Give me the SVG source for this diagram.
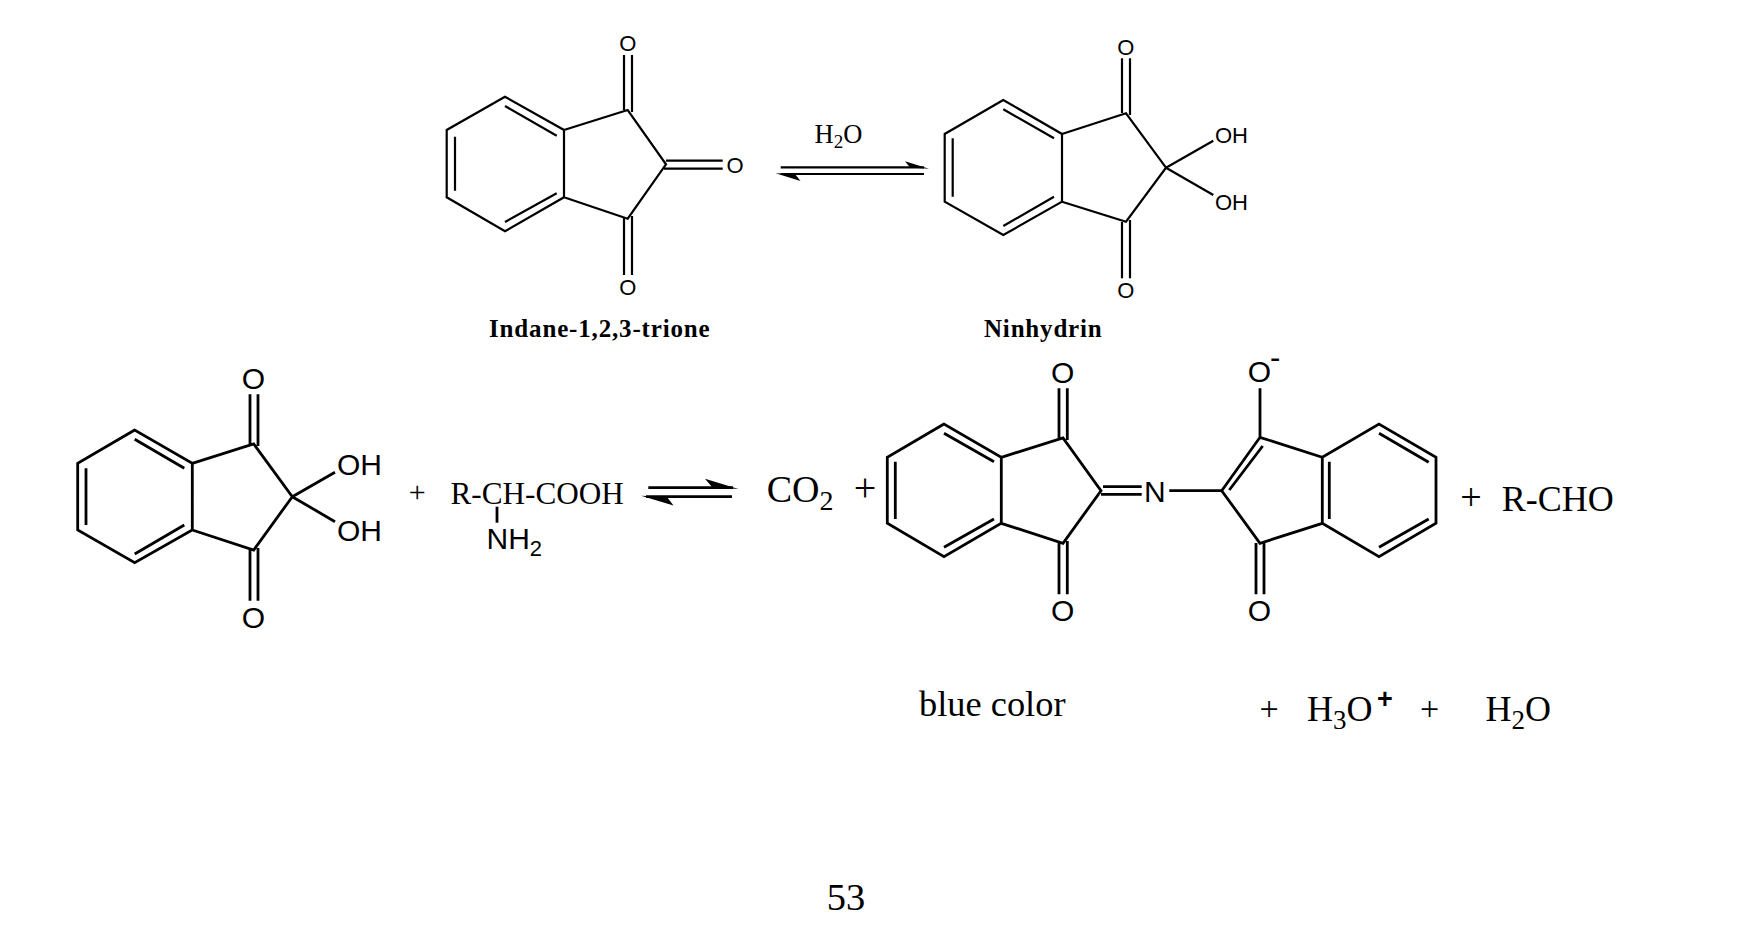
<svg xmlns="http://www.w3.org/2000/svg" width="1747" height="947" viewBox="0 0 1747 947">
<style>
text{fill:#000}
.s{font-family:"Liberation Sans",Arial,sans-serif}
.t{font-family:"Liberation Serif","Times New Roman",serif}
.m{text-anchor:middle}
.b{fill:none;stroke:#000;stroke-linejoin:miter;stroke-linecap:butt}
.thin{stroke-width:2.2}
.thick{stroke-width:2.8}
</style>
<rect width="1747" height="947" fill="#fff"/>
<g id="indanetrione">
<path class="b thin" d="M505 96.7L446.7 130V197.3L505 231.3L564 197.3V130ZM505 106L556.7 135.7M455 136.7V190.7M505 222L556.7 193.3M564 130L627.7 110L666 164.3L627.7 218.7L564 197.3M624 110V55M632 112V55M624 218V275M632 216V275M666 160.7H722.7M664 168.7H722.7"/>
<text class="s m" x="627.7" y="51" font-size="22">O</text>
<text class="s" x="726.5" y="173" font-size="22">O</text>
<text class="s m" x="627.7" y="294.5" font-size="22">O</text>
</g>
<g id="ninhydrin-top">
<path class="b thin" d="M1003.3 100L944.7 134V201.7L1003.3 235L1062 201.7V134ZM1003.3 109.3L1054 138.3M952.7 138.3V196.7M1003.3 226L1054 196.7M1062 134L1126 113.3L1166 167.7L1126 221.7L1062 201.7M1122 113V58.3M1130 115V58.3M1122 222V278.3M1130 220V278.3M1166 167.7L1213.3 140.7M1166 167.7L1213.3 195"/>
<text class="s m" x="1125.7" y="54.5" font-size="22">O</text>
<text class="s m" x="1125.7" y="298" font-size="22">O</text>
<text class="s" x="1215" y="142.7" font-size="22">OH</text>
<text class="s" x="1215" y="209.7" font-size="22">OH</text>
</g>
<g id="labels-top">
<text class="t" x="489" y="337.3" font-size="25" font-weight="700" textLength="220.7">Indane-1,2,3-trione</text>
<text class="t" x="984" y="337.3" font-size="25" font-weight="700" textLength="117.7">Ninhydrin</text>
<text class="t" x="814.5" y="143.3" font-size="26.5">H<tspan font-size="19" dy="5">2</tspan><tspan dy="-5">O</tspan></text>
</g>
<g id="ninhydrin-left">
<path class="b thick" d="M134.7 430L77.7 463.3V530L134.7 562.7L192.3 530V463.3ZM134.7 439.3L184.3 468.3M86 468.3V525M134.7 554L184.3 525M192.3 463.3L253.7 444L292.3 496.7L253.7 550L192.3 530M250 444V394.3M258 446V394.3M250 550V600.7M258 548V600.7M292.3 496.7L335 472.3M292.3 496.7L335 521.7"/>
<text class="s m" x="253.5" y="389" font-size="30">O</text>
<text class="s m" x="253.5" y="627.5" font-size="30">O</text>
<text class="s" x="337" y="475" font-size="30">OH</text>
<text class="s" x="337" y="541" font-size="30">OH</text>
</g>
<g id="amino-acid">
<text class="t m" x="417.3" y="502" font-size="30">+</text>
<text class="t" x="450.5" y="504" font-size="31.2">R-CH-COOH</text>
<path class="b thick" d="M497 506.7V522.7"/>
<text class="s" x="486.5" y="549.3" font-size="30">NH<tspan font-size="22" dy="6.4">2</tspan></text>
</g>
<g id="products-left">
<text class="t" x="766.7" y="501.7" font-size="38">CO<tspan font-size="28" dy="8.3">2</tspan></text>
<text class="t m" x="865" y="500.5" font-size="40">+</text>
</g>
<g id="indigo-dye">
<path class="b thick" d="M944 424L887.3 457.3V523.3L944 556.7L1001.3 523.3V457.3ZM944 433.3L994 461.7M895.3 461.7V519M944 547.3L994 519M1001.3 457.3L1063 438L1101 490.7L1063 543.3L1001.3 523.3M1059 438V388.3M1067.3 440V388.3M1059 543V594.3M1067.3 541V594.3M1103 486.7H1141.7M1101 494.3H1141.7M1169.3 490.7H1221.7"/>
<path class="b thick" d="M1221.7 490.7L1260 437.3L1322.3 457.3L1379 424L1436 457.3V523.3L1379 556.7L1322.3 523.3L1260 543.3ZM1229.3 490L1262.7 446M1322.3 457.3V523.3M1329.3 461.7V519M1379 433.3L1428.7 462.3M1379 547.3L1428.7 519M1260 437V388.3M1256 543V594.3M1264 541V594.3"/>
<text class="s m" x="1062.7" y="382.5" font-size="30">O</text>
<text class="s m" x="1062.7" y="620.5" font-size="30">O</text>
<text class="s" x="1144" y="501.7" font-size="30">N</text>
<text class="s m" x="1259.3" y="382" font-size="30">O</text>
<text class="s" x="1270" y="367.5" font-size="31">-</text>
<text class="s m" x="1259.3" y="620.5" font-size="30">O</text>
</g>
<g id="products-right">
<text class="t m" x="1471" y="509.5" font-size="38">+</text>
<text class="t" x="1501.7" y="510.7" font-size="36">R-CHO</text>
<text class="t" x="919" y="716" font-size="36.4">blue color</text>
<text class="t m" x="1269" y="719.5" font-size="34">+</text>
<text class="t" x="1307" y="720.7" font-size="36">H<tspan font-size="27" dy="8">3</tspan><tspan dy="-8">O</tspan></text>
<text class="s" x="1377" y="708" font-size="27" font-weight="700">+</text>
<text class="t m" x="1429.5" y="719.5" font-size="34">+</text>
<text class="t" x="1485.5" y="720.7" font-size="36">H<tspan font-size="27" dy="8">2</tspan><tspan dy="-8">O</tspan></text>
<text class="t m" x="846" y="910" font-size="38.5">53</text>
</g>
<g id="connectors">
<path class="b thin" d="M780.7 167.3H924M780.7 174H924"/>
<path d="M775.5 173.3L800.5 181L795 174Z"/>
<path d="M929 168.7L905 161.2L910 167.5Z"/>
<path class="b thick" d="M648.3 487.7H733M646 496.7H732"/>
<path d="M738.5 489L705 478.8L712 487Z"/>
<path d="M641 495.7L673.5 505.5L667 497Z"/>
</g>
</svg>
